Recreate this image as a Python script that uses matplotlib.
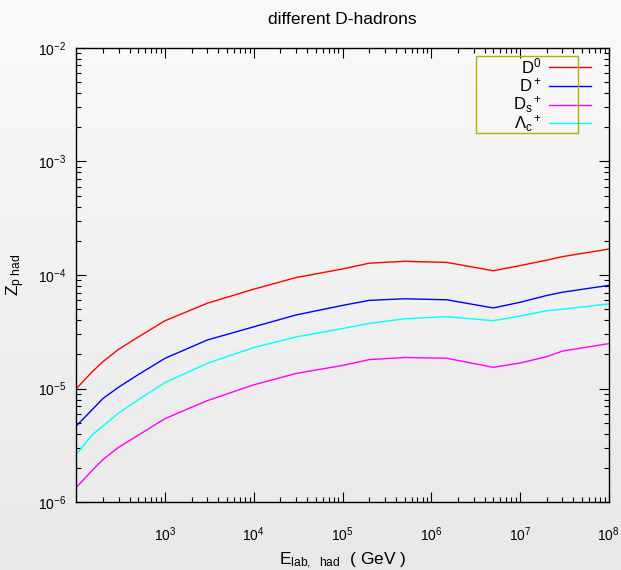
import matplotlib
matplotlib.use('Agg')
import matplotlib.pyplot as plt
from matplotlib.ticker import LogLocator, NullFormatter
import numpy as np

plt.rcParams['font.family'] = ['Liberation Sans', 'DejaVu Sans']
plt.rcParams['mathtext.fontset'] = 'custom'
plt.rcParams['mathtext.rm'] = 'Liberation Sans'
plt.rcParams['mathtext.it'] = 'Liberation Sans:italic'
plt.rcParams['axes.unicode_minus'] = False

# lab energy grid (GeV)
E = [1e2, 1.5e2, 2e2, 3e2, 5e2, 1e3, 3e3, 1e4, 3e4, 1e5, 2e5, 5e5,
     1.5e6, 5e6, 1e7, 2e7, 3e7, 1e8]

z_D0 = [1.0e-5, 1.4e-5, 1.73e-5, 2.22e-5, 2.85e-5, 3.96e-5, 5.65e-5, 7.5e-5,
        9.5e-5, 1.13e-4, 1.27e-4, 1.32e-4, 1.29e-4, 1.09e-4, 1.21e-4,
        1.35e-4, 1.45e-4, 1.69e-4]
z_Dp = [4.7e-6, 6.5e-6, 8.2e-6, 1.03e-5, 1.33e-5, 1.85e-5, 2.68e-5, 3.5e-5,
        4.45e-5, 5.4e-5, 5.98e-5, 6.18e-5, 6.05e-5, 5.13e-5, 5.75e-5,
        6.6e-5, 7.05e-5, 8.1e-5]
z_Ds = [1.35e-6, 1.9e-6, 2.38e-6, 3.05e-6, 3.9e-6, 5.45e-6, 7.85e-6, 1.08e-5,
        1.36e-5, 1.6e-5, 1.8e-5, 1.88e-5, 1.85e-5, 1.54e-5, 1.68e-5,
        1.91e-5, 2.14e-5, 2.49e-5]
z_Lc = [2.65e-6, 3.9e-6, 4.7e-6, 6.1e-6, 8.0e-6, 1.13e-5, 1.67e-5, 2.3e-5,
        2.85e-5, 3.38e-5, 3.75e-5, 4.12e-5, 4.3e-5, 3.96e-5, 4.35e-5,
        4.85e-5, 5.0e-5, 5.56e-5]

labels = [r'D$^0$', r'D$^+$', r'D$_\mathrm{s}$$^+$', r'$\Lambda_\mathrm{c}$$^+$']
colors = ['#ff0000', '#0000ff', '#ff00ff', '#00ffff']
series = [z_D0, z_Dp, z_Ds, z_Lc]

fig = plt.figure(figsize=[6.21, 5.7], dpi=100)

# gradient background
bg = fig.add_axes([0, 0, 1, 1], zorder=-10)
grad = np.linspace(0.98, 0.91, 256).reshape(-1, 1)
bg.imshow(np.dstack([grad, grad, grad]), aspect='auto', extent=[0, 1, 0, 1])
bg.axis('off')

ax = fig.add_axes([0.1229, 0.1188, 0.8573, 0.7975])
ax.set_facecolor('none')
for y, c, l in zip(series, colors, labels):
    ax.plot(E, y, color=c, lw=1.0, label=l)

ax.set_xscale('log')
ax.set_yscale('log')
ax.set_xlim(1e2, 1e8)
ax.set_ylim(1e-6, 1e-2)
ax.set_xticks([1e3, 1e4, 1e5, 1e6, 1e7, 1e8])
ax.set_xticklabels([r'$10^{%d}$' % i for i in range(3, 9)])
ax.set_yticks([1e-6, 1e-5, 1e-4, 1e-3, 1e-2])
ax.set_yticklabels([r'$10^{%d}$' % i for i in range(-6, -1)])
ax.xaxis.set_minor_locator(LogLocator(base=10, subs=np.arange(2, 10), numticks=20))
ax.yaxis.set_minor_locator(LogLocator(base=10, subs=np.arange(2, 10), numticks=20))
ax.xaxis.set_minor_formatter(NullFormatter())
ax.yaxis.set_minor_formatter(NullFormatter())
ax.tick_params(which='both', direction='in', top=True, right=True, width=0.8, labelsize=10)
ax.tick_params(which='major', length=7)
ax.tick_params(which='minor', length=3.5)
ax.tick_params(axis='x', pad=17)
ax.tick_params(axis='y', pad=7)
for s in ax.spines.values():
    s.set_linewidth(1.0)

ax.set_title('different D-hadrons', fontsize=12.5, pad=17)
ax.set_xlabel(r'E$_\mathrm{lab,\ \ had}$  ( GeV )', fontsize=12.5, va='center')
ax.xaxis.set_label_coords(0.5, -0.128)
ax.set_ylabel(r'Z$_\mathrm{p\ had}$', fontsize=12.5, labelpad=8)

# gnuplot-style key, labels right aligned
ax.add_patch(plt.Rectangle((0.7498, 0.8115), 0.1931, 0.1705, transform=ax.transAxes,
                           fill=False, edgecolor='#b0b000', lw=1.0, zorder=5))
for i, (c, l) in enumerate(zip(colors, labels)):
    yy = 0.958 - i * 0.0415
    ax.text(0.874, yy, l, transform=ax.transAxes, ha='right', va='center', fontsize=12)
    ax.plot([0.887, 0.966], [yy, yy], transform=ax.transAxes, color=c, lw=1.0)

plt.savefig('out.png', dpi=100)
